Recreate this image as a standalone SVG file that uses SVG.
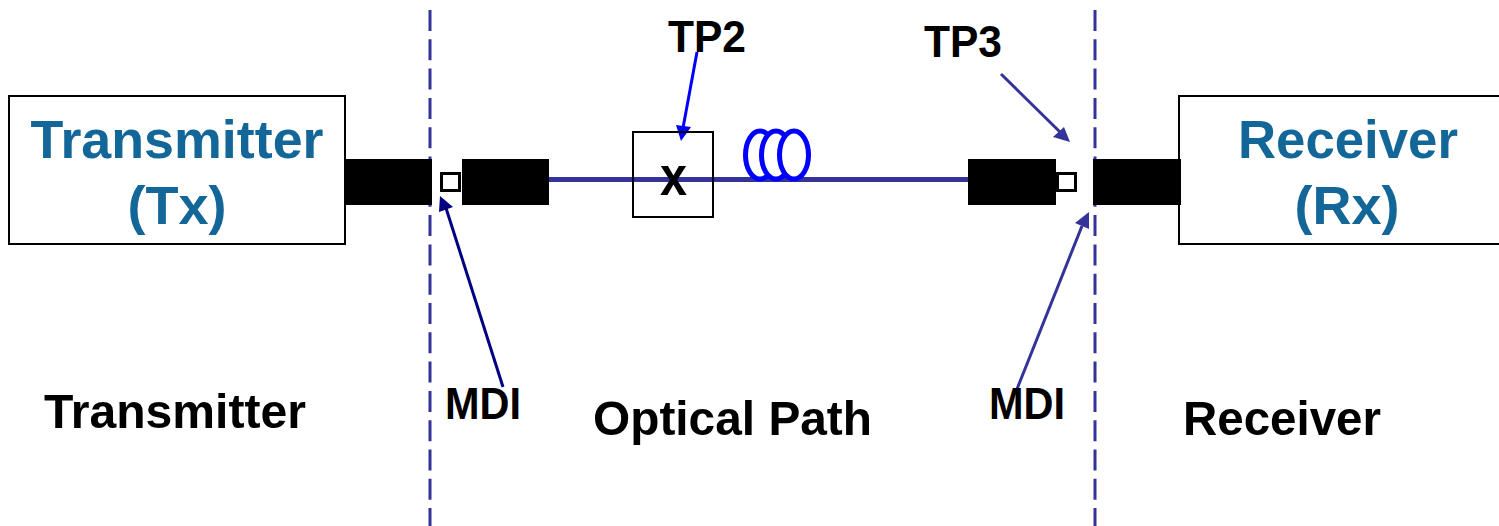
<svg xmlns="http://www.w3.org/2000/svg" width="1499" height="526" viewBox="0 0 1499 526">
<style>
text{font-family:"Liberation Sans",Arial,sans-serif;font-weight:bold;fill:#000}
.lbl{font-size:49px}
.sm{font-size:44px}
.big{font-size:54px;fill:#136698;text-anchor:middle}
.box{fill:#fff;stroke:#000;stroke-width:2}
.dash{stroke:#333399;stroke-width:3;stroke-dasharray:21 8.3;fill:none}
.blk{fill:#000}
.port{fill:#fff;stroke:#000;stroke-width:3}
.coil{fill:#fff;stroke:#0000ff;stroke-width:5}
</style>
<rect width="1499" height="526" fill="#fff"/>
<g id="dividers">
<line class="dash" x1="430" y1="10" x2="430" y2="526"/>
<line class="dash" x1="1095" y1="10" x2="1095" y2="526"/>
</g>
<g id="transmitter"><rect class="box" x="9" y="96" width="336" height="148"/>
<text class="big" x="177" y="158" textLength="293" lengthAdjust="spacingAndGlyphs">Transmitter</text><text class="big" x="177" y="224">(Tx)</text></g>
<g id="receiver"><rect class="box" x="1179" y="96" width="330" height="148"/>
<text class="big" x="1348" y="158" textLength="220" lengthAdjust="spacingAndGlyphs">Receiver</text><text class="big" x="1347" y="224">(Rx)</text></g>
<g id="connectors">
<line x1="549" y1="179.500" x2="970" y2="179.500" stroke="#333399" stroke-width="5"/>
<line x1="697" y1="52" x2="683" y2="128" stroke="#0000ff" stroke-width="3"/>
<polygon points="676,125 691,127 681,141" fill="#0000ff"/>
<line x1="1001" y1="74" x2="1060" y2="132" stroke="#333399" stroke-width="3"/>
<polygon points="1053,137 1064,127 1070,142" fill="#333399"/>
<line x1="503" y1="387" x2="446" y2="208" stroke="#000080" stroke-width="3"/>
<polygon points="440,196 453,207 439,212" fill="#000080"/>
<line x1="1017" y1="389" x2="1082" y2="226" stroke="#333399" stroke-width="3"/>
<polygon points="1089,212 1075,223 1089,229" fill="#333399"/>
</g>
<g id="tx-plug"><rect class="blk" x="344" y="159" width="88" height="46"/></g>
<g id="mdi-left"><rect class="port" x="441.500" y="173.500" width="18" height="17"/></g>
<g id="plug-left"><rect class="blk" x="462" y="159" width="87" height="46"/></g>
<g id="tp2"><rect x="633" y="132" width="80" height="85" fill="none" stroke="#000" stroke-width="2"/>
<text x="660" y="195" font-size="55" textLength="27" lengthAdjust="spacingAndGlyphs">x</text>
</g>
<g id="coil">
<ellipse class="coil" cx="760" cy="155" rx="14.500" ry="24"/>
<ellipse class="coil" cx="776" cy="155" rx="14.500" ry="24"/>
<ellipse class="coil" cx="794" cy="155" rx="14.500" ry="24"/>
</g>
<g id="plug-right"><rect class="blk" x="968" y="159" width="88" height="46"/></g>
<g id="mdi-right"><rect class="port" x="1057.500" y="173.500" width="18" height="17"/></g>
<g id="rx-plug"><rect class="blk" x="1093" y="159" width="88" height="46"/></g>
<g id="labels">
<text class="sm" x="668" y="52" textLength="78" lengthAdjust="spacingAndGlyphs">TP2</text>
<text class="sm" x="924" y="57" textLength="78" lengthAdjust="spacingAndGlyphs">TP3</text>
<text class="lbl" x="44" y="428" textLength="262" lengthAdjust="spacingAndGlyphs">Transmitter</text>
<text class="sm" x="445" y="419" textLength="76" lengthAdjust="spacingAndGlyphs">MDI</text>
<text class="lbl" x="593" y="435" textLength="279" lengthAdjust="spacingAndGlyphs">Optical Path</text>
<text class="sm" x="989" y="419" textLength="76" lengthAdjust="spacingAndGlyphs">MDI</text>
<text class="lbl" x="1183" y="435" textLength="198" lengthAdjust="spacingAndGlyphs">Receiver</text>
</g>
</svg>
